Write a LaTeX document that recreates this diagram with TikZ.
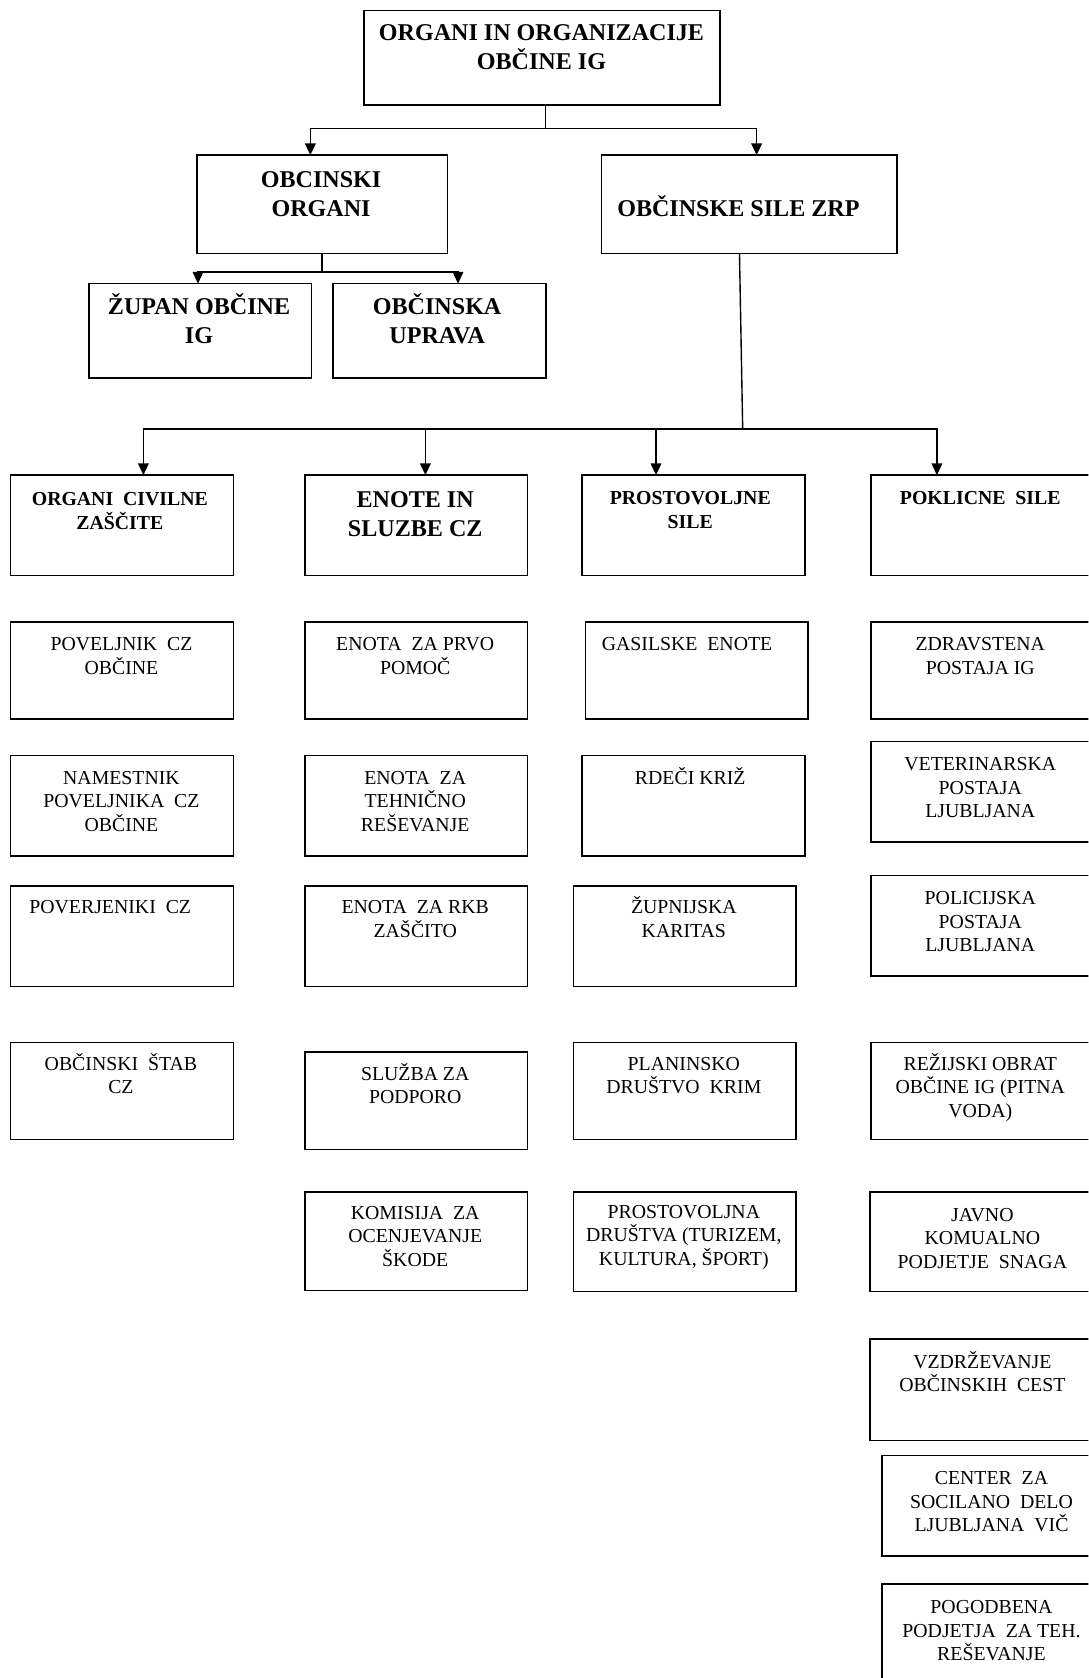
\documentclass[tikz,border=0pt]{standalone}
\usepackage{fontspec}
\setmainfont{Liberation Serif}
\usetikzlibrary{arrows.meta}
\newcommand\strA{\rule{0pt}{20pt}}
\newcommand\strB{\rule{0pt}{17pt}}
\newcommand\mkbox[5]{\node[box, minimum width={(#4-#2)*1pt}, minimum height={(#5-#3)*1pt}] (#1) at ({(#2+#4)/2},{(#3+#5)/2}) {};}
\tikzset{
  box/.style={draw, line width=1.4pt, inner sep=0pt, outer sep=0pt, rectangle},
  conn/.style={line width=1.3pt},
  arr/.style={line width=1.3pt, -{Triangle[length=11pt,width=10pt]}},
  tb/.style={anchor=north, inner sep=0pt, outer sep=0pt, align=center, yshift=20pt, font=\bfseries\fontsize{22.5}{27}\selectfont},
  tm/.style={anchor=north, inner sep=0pt, outer sep=0pt, align=center, yshift=17pt, font=\bfseries\fontsize{18.5}{22.5}\selectfont},
  tr/.style={anchor=north, inner sep=0pt, outer sep=0pt, align=center, yshift=17pt, font=\fontsize{18.5}{22}\selectfont},
}
\begin{document}
\begin{tikzpicture}[x=1pt,y=-1pt]
\useasboundingbox (0,0) rectangle (1017,1568);
\clip (0,0) rectangle (1017,1568);
\fill[white] (0,0) rectangle (1017,1568);

% boxes
\mkbox{top}{340}{10}{673}{98}
\mkbox{oo}{184}{145}{418}{237}
\mkbox{os}{562}{145}{838}{237}
\mkbox{zup}{83}{265}{291}{353}
\mkbox{upr}{311}{265}{510}{353}
% row 1
\mkbox{ocz}{10}{444}{218}{538}
\mkbox{enote}{285}{444}{493}{538}
\mkbox{prost}{544}{444}{752}{538}
\mkbox{pokl}{814}{444}{1030}{538}
% row 2
\mkbox{povel}{10}{581}{218}{672}
\mkbox{prvo}{285}{581}{493}{672}
\mkbox{gas}{547}{581}{755}{672}
\mkbox{zdrav}{814}{581}{1030}{672}
% row 3
\mkbox{namest}{10}{706}{218}{800}
\mkbox{tehn}{285}{706}{493}{800}
\mkbox{rdeci}{544}{706}{752}{800}
\mkbox{veter}{814}{693}{1030}{787}
% row 4
\mkbox{poverj}{10}{828}{218}{922}
\mkbox{rkb}{285}{828}{493}{922}
\mkbox{zupn}{536}{828}{744}{922}
\mkbox{polic}{814}{818}{1030}{912}
% row 5
\mkbox{stab}{10}{974}{218}{1065}
\mkbox{sluzba}{285}{983}{493}{1074}
\mkbox{planin}{536}{974}{744}{1065}
\mkbox{rezij}{814}{974}{1030}{1065}
% row 6
\mkbox{komis}{285}{1114}{493}{1206}
\mkbox{prostdr}{536}{1114}{744}{1207}
\mkbox{javno}{813}{1114}{1030}{1207}
% right column
\mkbox{vzdr}{813}{1251}{1030}{1346}
\mkbox{center}{824}{1360}{1030}{1454}
\mkbox{pogod}{824}{1480}{1030}{1580}

% texts
\node[tb] (t-top) at (506,38) {\strA ORGANI IN ORGANIZACIJE\\OBČINE IG};
\node[tb] (t-oo) at (300,175) {\strA OBCINSKI\\ORGANI};
\node[tb] (t-os) at (690,202) {\strA OBČINSKE SILE ZRP};
\node[tb] (t-zup) at (186,294) {\strA ŽUPAN OBČINE\\IG};
\node[tb] (t-upr) at (408.5,294) {\strA OBČINSKA\\UPRAVA};

\node[tm] (t-ocz) at (112,472) {\strB ORGANI\ \ CIVILNE\\ZAŠČITE};
\node[tb] (t-enote) at (388,474) {\strA ENOTE IN\\SLUZBE CZ};
\node[tm] (t-prost) at (645,471) {\strB PROSTOVOLJNE\\SILE};
\node[tm] (t-pokl) at (916,471) {\strB POKLICNE\ \ SILE};

\node[tr] (t-povel) at (113.5,608) {\strB POVELJNIK\ \ CZ\\OBČINE};
\node[tr] (t-prvo) at (388,608) {\strB ENOTA\ \ ZA PRVO\\POMOČ};
\node[tr] (t-gas) at (642,608) {\strB GASILSKE\ \ ENOTE};
\node[tr] (t-zdrav) at (916,608) {\strB ZDRAVSTENA\\POSTAJA IG};

\node[tr] (t-namest) at (113.5,733) {\strB NAMESTNIK\\POVELJNIKA\ \ CZ\\OBČINE};
\node[tr] (t-tehn) at (388,733) {\strB ENOTA\ \ ZA\\TEHNIČNO\\REŠEVANJE};
\node[tr] (t-rdeci) at (645,733) {\strB RDEČI KRIŽ};
\node[tr] (t-veter) at (916,720) {\strB VETERINARSKA\\POSTAJA\\LJUBLJANA};

\node[tr] (t-poverj) at (103,854) {\strB POVERJENIKI\ \ CZ};
\node[tr] (t-rkb) at (388,854) {\strB ENOTA\ \ ZA RKB\\ZAŠČITO};
\node[tr] (t-zupn) at (639,854) {\strB ŽUPNIJSKA\\KARITAS};
\node[tr] (t-polic) at (916,845.5) {\strB POLICIJSKA\\POSTAJA\\LJUBLJANA};

\node[tr] (t-stab) at (113,1000) {\strB OBČINSKI\ \ ŠTAB\\CZ};
\node[tr] (t-sluzba) at (388,1009.5) {\strB SLUŽBA ZA\\PODPORO};
\node[tr] (t-planin) at (639,1000) {\strB PLANINSKO\\DRUŠTVO\ \ KRIM};
\node[tr] (t-rezij) at (916,1000) {\strB REŽIJSKI OBRAT\\OBČINE IG (PITNA\\VODA)};

\node[tr] (t-komis) at (388,1139.5) {\strB KOMISIJA\ \ ZA\\OCENJEVANJE\\ŠKODE};
\node[tr] (t-prostdr) at (639,1138.5) {\strB PROSTOVOLJNA\\DRUŠTVA (TURIZEM,\\KULTURA, ŠPORT)};
\node[tr] (t-javno) at (918,1141) {\strB JAVNO\\KOMUALNO\\PODJETJE\ \ SNAGA};
\node[tr] (t-vzdr) at (918,1278.5) {\strB VZDRŽEVANJE\\OBČINSKIH\ \ CEST};
\node[tr] (t-center) at (926.5,1387.5) {\strB CENTER\ \ ZA\\SOCILANO\ \ DELO\\LJUBLJANA\ \ VIČ};
\node[tr] (t-pogod) at (926.5,1508) {\strB POGODBENA\\PODJETJA\ \ ZA TEH.\\REŠEVANJE};

% connectors
\draw[conn] ([xshift=3.5pt]top.south) -- ++(0,22) coordinate (j1);
\draw[arr] (j1) -| ([xshift=-11pt]oo.north);
\draw[arr] (j1) -| ([xshift=7pt]os.north);

\draw[conn] (oo.south) -- ++(0,17) coordinate (j2);
\draw[arr] (j2) -| ([xshift=-2pt]zup.north);
\draw[arr] (j2) -| ([xshift=17.5pt]upr.north);

\coordinate (j3) at (694,401);
\draw[conn] ([xshift=-9pt]os.south) -- (j3);
\draw[arr] (j3) -| ([xshift=20pt]ocz.north);
\draw[arr] (j3) -| ([xshift=8.5pt]enote.north);
\draw[arr] (j3) -| ([xshift=-35pt]prost.north);
\draw[arr] (j3) -| ([xshift=-46.5pt]pokl.north);
\end{tikzpicture}
\end{document}
